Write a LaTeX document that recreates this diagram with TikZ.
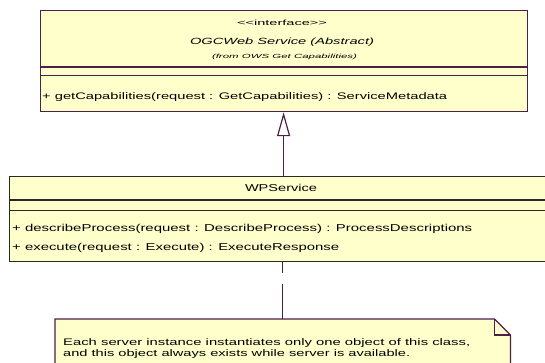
\documentclass[tikz,border=0pt]{standalone}
\usepackage{fontspec}
\setmainfont{Liberation Sans}
\usetikzlibrary{arrows.meta}
\definecolor{umlfill}{RGB}{255,255,204}
\definecolor{umlline}{RGB}{78,30,72}
\definecolor{umldark}{RGB}{40,40,40}
% stretch a text horizontally to a given width, keeping its height
\newcommand{\wfit}[2]{\resizebox{#1}{\height}{#2}}
\tikzset{
  classbox/.style={draw=umlline, fill=umlfill, line width=1.2pt, inner sep=0pt, anchor=north west},
  notebox/.style={inner sep=0pt, anchor=north west},
  sep/.style={draw=umlline, line width=1.2pt},
  txt/.style={inner sep=0pt, text=black},
  gen/.style={draw=umlline, line width=1.2pt, -{Triangle[open, length=24pt, width=13pt, fill=white]}},
  dep/.style={draw=umlline, line width=1.2pt, dash pattern=on 11pt off 11pt on 60pt off 1pt}
}
\begin{document}
\begin{tikzpicture}[x=1pt, y=-1pt]
\useasboundingbox (0,0) rectangle (545,362);

% interface class
\node[classbox, minimum width=487pt, minimum height=101pt] (ogc) at (39.5,10) {};
\draw[sep] (39.5,67) -- (526.5,67);
\draw[sep] (39.5,75.5) -- (526.5,75.5);
\node[txt, font=\fontsize{7.5}{9}\selectfont] (st) at (282,23) {\wfit{90pt}{<\kern0pt<interface>\kern0pt>}};
\node[txt, font=\fontsize{9}{11}\itshape] (nm) at (282,42) {\wfit{184pt}{OGCWeb Service (Abstract)}};
\node[txt, font=\fontsize{6}{7}\itshape] (fr) at (284.5,57) {\wfit{145pt}{(from OWS Get Capabilities)}};
\node[txt, anchor=west, font=\fontsize{9.5}{11}\selectfont] (op0) at (42,97)
  {\wfit{405pt}{+ getCapabilities(request : GetCapabilities) : ServiceMetadata}};

% implementing class
\node[draw=umldark, fill=umlfill, line width=1.3pt, inner sep=0pt, anchor=north west,
      minimum width=548pt, minimum height=85pt] (wps) at (9,176) {};
\draw[draw=umldark, line width=1.3pt] (9,200) -- (557,200);
\draw[draw=umldark, line width=1.3pt] (9,210.5) -- (557,210.5);
\node[txt, font=\fontsize{10}{12}\selectfont] (wn) at (281,188) {\wfit{72pt}{WPService}};
\node[txt, anchor=west, font=\fontsize{10}{12}\selectfont] (op1) at (12,228.5)
  {\wfit{460pt}{+ describeProcess(request : DescribeProcess) : ProcessDescriptions}};
\node[txt, anchor=west, font=\fontsize{10}{12}\selectfont] (op2) at (12,247.5)
  {\wfit{327pt}{+ execute(request : Execute) : ExecuteResponse}};

% note
\node[notebox, minimum width=455pt, minimum height=55pt] (note) at (55,319) {};
\draw[draw=umlline, fill=umlfill, line width=1.2pt]
  (note.south west) -- (note.north west) -- ([xshift=-16pt]note.north east)
  -- ([yshift=-16pt]note.north east) -- (note.south east);
\draw[draw=umlline, line width=1.2pt]
  ([xshift=-16pt]note.north east) -- ([xshift=-16pt,yshift=-16pt]note.north east)
  -- ([yshift=-16pt]note.north east);
\node[txt, anchor=west, font=\fontsize{9.5}{11}\selectfont] (n1) at (63,343)
  {\wfit{407pt}{Each server instance instantiates only one object of this class,}};
\node[txt, anchor=west, font=\fontsize{9.5}{11}\selectfont] (n2) at (63,354)
  {\wfit{347pt}{and this object always exists while server is available.}};

% connectors
\draw[gen] (wps.north -| ogc.south) -- (ogc.south);
\draw[dep] (wps.south -| note.north) -- (note.north);
\end{tikzpicture}
\end{document}
